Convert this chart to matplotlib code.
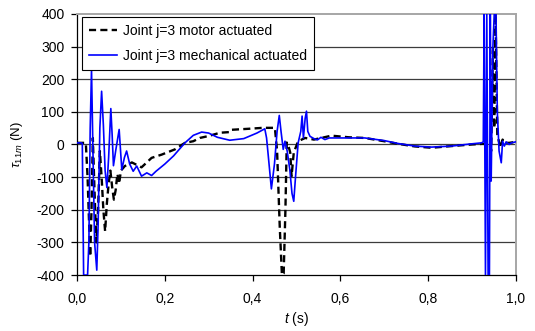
import numpy as np
import matplotlib
matplotlib.use("Agg")
import matplotlib.pyplot as plt
from matplotlib.ticker import FuncFormatter

plt.rcParams['font.family'] = ['Liberation Sans', 'DejaVu Sans']
plt.rcParams['mathtext.fontset'] = 'custom'
plt.rcParams['mathtext.rm'] = 'Liberation Sans'
plt.rcParams['mathtext.it'] = 'Liberation Sans:italic'
plt.rcParams['axes.unicode_minus'] = False

# motor actuated joint torque (dashed)
t_motor = [0.000, 0.020, 0.024, 0.030, 0.033, 0.036, 0.040, 0.044, 0.048, 0.052,
           0.056, 0.060, 0.064, 0.068, 0.072, 0.076, 0.080, 0.084, 0.088, 0.092,
           0.096, 0.100, 0.109, 0.125, 0.147, 0.170, 0.193, 0.223, 0.246, 0.265,
           0.280, 0.300, 0.326, 0.348, 0.352, 0.390, 0.424, 0.451, 0.456, 0.462,
           0.467, 0.471, 0.475, 0.478, 0.483, 0.486, 0.489, 0.494, 0.504, 0.520,
           0.540, 0.580, 0.620, 0.656, 0.700, 0.732, 0.770, 0.808, 0.853, 0.900,
           0.925, 0.940, 0.944, 0.948, 0.951, 0.954, 0.958, 0.965, 0.970, 0.975,
           0.985, 1.000]
tau_motor = [5, 5, -100, -343, -200, 20, -150, -300, -200, -20,
             -100, -200, -266, -180, -120, -80, -130, -169, -140, -90,
             -120, -80, -66, -55, -70, -41, -31, -15, 5, 10,
             20, 26, 36, 38, 45, 48, 51, 51, -20, -250,
             -400, -395, -200, 6, -10, -25, -97, -25, 10, 20,
             15, 27, 22, 20, 10, 2, -6, -10, -5, 0,
             2, 0, -20, 300, 50, 400, 30, -10, 15, 5,
             5, 8]

# mechanical actuated joint torque (solid)
t_mech = [0.000, 0.010, 0.012, 0.015, 0.024, 0.027, 0.030, 0.033, 0.036, 0.040,
          0.045, 0.048, 0.052, 0.056, 0.060, 0.064, 0.068, 0.072, 0.077, 0.080,
          0.083, 0.088, 0.096, 0.102, 0.108, 0.113, 0.120, 0.128, 0.136, 0.147,
          0.159, 0.170, 0.180, 0.200, 0.220, 0.246, 0.265, 0.284, 0.300, 0.320,
          0.348, 0.380, 0.410, 0.428, 0.432, 0.436, 0.443, 0.450, 0.456, 0.461,
          0.465, 0.470, 0.474, 0.479, 0.485, 0.490, 0.494, 0.498, 0.504, 0.510,
          0.513, 0.516, 0.520, 0.523, 0.526, 0.531, 0.540, 0.548, 0.556, 0.565,
          0.575, 0.600, 0.656, 0.700, 0.732, 0.770, 0.808, 0.853, 0.900, 0.922,
          0.926, 0.928, 0.931, 0.934, 0.937, 0.940, 0.942, 0.944, 0.948, 0.951,
          0.955, 0.958, 0.962, 0.967, 0.970, 0.974, 0.978, 0.985, 0.990, 1.000]
tau_mech = [5, 5, 3, -400, -400, -300, 50, 230, 0, -300,
            -385, -250, 50, 163, 60, -80, -132, -40, 110, 30,
            -65, -20, 46, -77, -40, -20, -60, -82, -66, -97,
            -87, -95, -82, -60, -35, 5, 28, 38, 35, 22,
            13, 18, 35, 48, 20, -36, -136, -60, 40, 89,
            40, -15, 10, -20, -77, -150, -174, -100, 5, 40,
            87, 20, 80, 102, 40, 25, 18, 14, 22, 15,
            20, 20, 20, 12, 3, -5, -8, -5, 2, 5,
            8, 400, -400, 400, -400, -400, 400, -112, 300, 400,
            400, 100, -20, -56, 10, -5, 8, 0, 5, 8]

x_ticks = [0.0, 0.2, 0.4, 0.6, 0.8, 1.0]
y_ticks = [-400, -300, -200, -100, 0, 100, 200, 300, 400]

fig = plt.figure(figsize=(5.35, 3.31), dpi=100)
ax = fig.add_axes([0.144, 0.169, 0.820, 0.789])

for y in y_ticks[1:-1]:
    ax.axhline(y, color='#3c3c3c', lw=0.9, zorder=1)

ax.plot(t_motor, tau_motor, color='black', lw=1.7, ls=(0, (3.0, 1.8)),
        label='Joint j=3 motor actuated', zorder=3)
ax.plot(t_mech, tau_mech, color='#0000ff', lw=1.2,
        label='Joint j=3 mechanical actuated', zorder=4)

ax.set_xlim(0, 1.0)
ax.set_ylim(-400, 400)
ax.set_xticks(x_ticks)
ax.set_yticks(y_ticks)
ax.xaxis.set_major_formatter(FuncFormatter(lambda v, p: f'{v:.1f}'.replace('.', ',')))
ax.tick_params(axis='both', direction='out', length=4, width=0.9, labelsize=10,
               colors='black', pad=5)
ax.tick_params(axis='x', pad=8)

ax.spines['top'].set_color('#a6a6a6')
ax.spines['right'].set_color('#a6a6a6')
ax.spines['top'].set_linewidth(1.4)
ax.spines['right'].set_linewidth(1.4)
ax.spines['left'].set_linewidth(0.9)
ax.spines['bottom'].set_linewidth(0.9)

ax.set_xlabel(r'$t$ (s)', fontsize=10, labelpad=3)
ax.set_ylabel(r'$\tau_{11m}$ (N)', fontsize=9.5, labelpad=8)

leg = ax.legend(loc='upper left', bbox_to_anchor=(0.012, 0.988), fontsize=10,
                frameon=True, fancybox=False, edgecolor='black', framealpha=1,
                handlelength=2.0, handletextpad=0.45, borderpad=0.5,
                labelspacing=0.8, borderaxespad=0)
leg.get_frame().set_linewidth(0.8)

fig.savefig('out.png', dpi=100)
